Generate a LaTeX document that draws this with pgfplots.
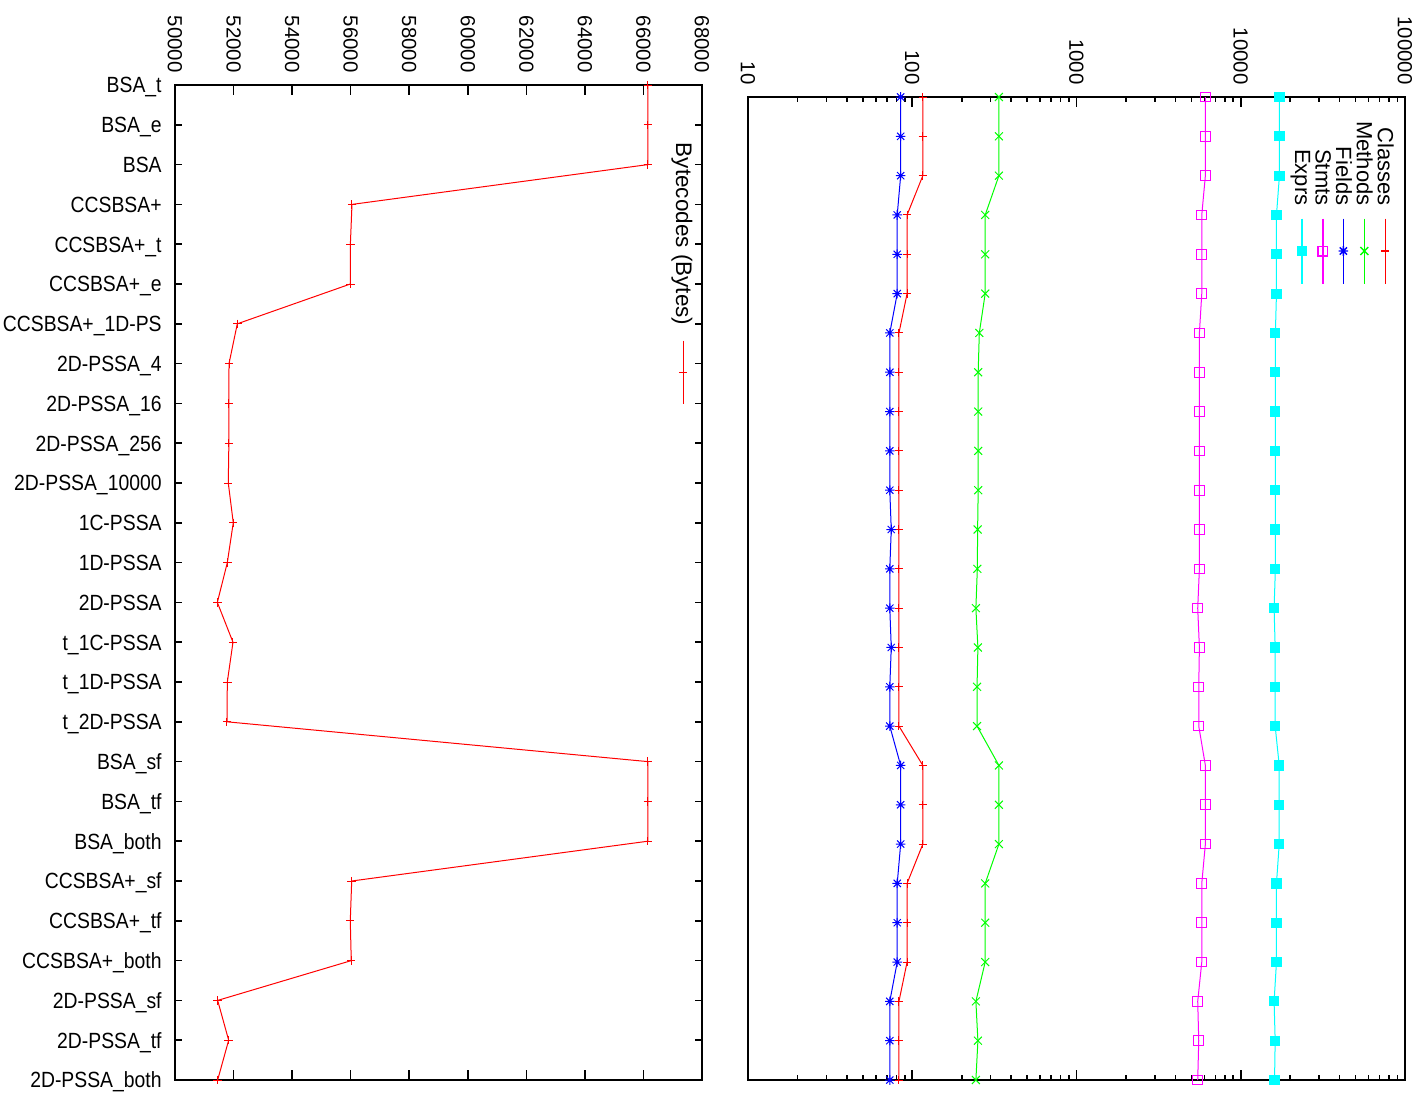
\documentclass[border=0pt]{standalone}
\usepackage{fontspec}
\setmainfont{Liberation Sans}
\newfontfamily\catfont[FakeStretch=0.88]{Liberation Sans}
\usepackage{graphicx}
\usepackage{pgfplots}
\usepackage{pgfplotstable}
\pgfplotsset{compat=1.18}

\definecolor{gpred}{RGB}{255,0,0}
\definecolor{gpgreen}{RGB}{0,255,0}
\definecolor{gpblue}{RGB}{0,0,255}
\definecolor{gpmagenta}{RGB}{255,0,255}
\definecolor{gpcyan}{RGB}{0,255,255}

\newcommand\lgtxt[2]{\rotatebox{-90}{\makebox[#1][r]{\rule[-2pt]{0pt}{9.75pt}#2}}}

\pgfdeclareplotmark{gpstar}{%
  \pgfpathmoveto{\pgfqpoint{-\pgfplotmarksize}{0pt}}\pgfpathlineto{\pgfqpoint{\pgfplotmarksize}{0pt}}%
  \pgfpathmoveto{\pgfqpoint{0pt}{-\pgfplotmarksize}}\pgfpathlineto{\pgfqpoint{0pt}{\pgfplotmarksize}}%
  \pgfpathmoveto{\pgfqpoint{-.75\pgfplotmarksize}{-.75\pgfplotmarksize}}\pgfpathlineto{\pgfqpoint{.75\pgfplotmarksize}{.75\pgfplotmarksize}}%
  \pgfpathmoveto{\pgfqpoint{-.75\pgfplotmarksize}{.75\pgfplotmarksize}}\pgfpathlineto{\pgfqpoint{.75\pgfplotmarksize}{-.75\pgfplotmarksize}}%
  \pgfusepathqstroke}

\pgfplotstableread{
row bc    cls mth fld  stm  exp
0   66150 116 337 85   6090 17200
1   66150 116 337 85   6090 17200
2   66150 116 337 85   6090 17200
3   56045 93  278 81   5790 16500
4   55990 93  278 81   5790 16500
5   55990 93  278 81   5790 16500
6   52128 83  256 73   5600 16250
7   51845 83  252 73   5600 16250
8   51840 83  252 73   5600 16250
9   51840 83  252 73   5600 16250
10  51820 83  252 73   5600 16250
11  51990 83  250 74.5 5600 16250
12  51787 83  249 73   5600 16250
13  51446 83  244 73   5470 15960
14  51980 83  251 74.5 5600 16200
15  51787 83  248 73   5550 16200
16  51776 83  248 73   5550 16200
17  66150 116 337 85   6090 17150
18  66150 116 337 85   6090 17150
19  66150 116 337 85   6090 17150
20  56035 93  278 81   5790 16500
21  55987 93  278 81   5790 16500
22  56020 93  278 81   5790 16500
23  51457 83  244 73   5470 15960
24  51833 83  251 73   5550 16200
25  51457 83  244 73   5470 16060
}\datatable

\begin{document}
\begin{tikzpicture}
\useasboundingbox (0,0) rectangle (711.5pt,548.5pt);
\pgfplotsset{
  gpaxis/.style={
    scale only axis,
    anchor=south west,
    ymin=0, ymax=25, y dir=reverse,
    clip=false,
    scaled x ticks=false,
    tick align=inside,
    axis line style={line width=1.1pt},
    every tick/.style={black, line width=0.8pt},
    xticklabel pos=upper,
    xticklabel style={rotate=-90, anchor=east, inner sep=0pt, font=\fontsize{10.2}{11}\selectfont},
    xticklabel shift=6pt,
    xtick style={/pgfplots/major tick length=5pt, /pgfplots/minor tick length=2.6pt},
    legend style={draw=none, fill=none, inner sep=0pt, outer sep=0pt,
      column sep=0pt, row sep=0pt, cells={anchor=north west},
      nodes={inner sep=0pt, outer sep=0pt}},
    legend plot pos=left,
  },
}
\begin{axis}[gpaxis,
  width=263.5pt, height=497.5pt,
  at={(87.5pt,8.5pt)},
  xmin=50000, xmax=68000,
  xtick={50000,52000,54000,56000,58000,60000,62000,64000,66000,68000},
  xticklabels={50000,52000,54000,56000,58000,60000,62000,64000,66000,68000},
  ytick={0,...,25},
  yticklabels={BSA\_t,BSA\_e,BSA,CCSBSA+,CCSBSA+\_t,CCSBSA+\_e,CCSBSA+\_1D-PS,2D-PSSA\_4,2D-PSSA\_16,2D-PSSA\_256,2D-PSSA\_10000,1C-PSSA,1D-PSSA,2D-PSSA,t\_1C-PSSA,t\_1D-PSSA,t\_2D-PSSA,BSA\_sf,BSA\_tf,BSA\_both,CCSBSA+\_sf,CCSBSA+\_tf,CCSBSA+\_both,2D-PSSA\_sf,2D-PSSA\_tf,2D-PSSA\_both},
  yticklabel pos=lower,
  yticklabel style={anchor=east, inner sep=0pt, text height=7.9pt, text depth=0pt, font=\catfont\fontsize{11}{13}\selectfont},
  yticklabel shift=6.5pt,
  ytick style={/pgfplots/major tick length=3.7pt},
  legend style={at={(0.982,0.9407)}, anchor=north east, font=\fontsize{11.25}{13}\selectfont},
  legend image code/.code={\path (0pt,0pt); \draw[overlay,mark repeat=2,mark phase=2,#1] plot coordinates {(6.03pt,-98pt) (6.03pt,-113.75pt) (6.03pt,-129.5pt)};},
]
\addplot[gpred, line width=0.5pt, mark=+, mark size=2.1pt] table[x=bc, y=row] {\datatable};
\addlegendentry{\lgtxt{90.5pt}{Bytecodes (Bytes)}}
\end{axis}

\begin{axis}[gpaxis,
  width=328.5pt, height=491.5pt,
  at={(374pt,8.5pt)},
  xmode=log, xmin=10, xmax=100000,
  xtick={10,100,1000,10000,100000},
  xticklabels={10,100,1000,10000,100000},
  minor xtick={20,30,40,50,60,70,80,90,200,300,400,500,600,700,800,900,2000,3000,4000,5000,6000,7000,8000,9000,20000,30000,40000,50000,60000,70000,80000,90000},
  ytick=\empty,
  legend columns=5, reverse legend,
  legend style={at={(0.983,0.9766)}, anchor=north east, font=\fontsize{11}{13}\selectfont},
  legend image code/.code={\path (0pt,0pt); \draw[overlay,line width=0.7pt,mark repeat=2,mark phase=2,#1] plot coordinates {(5.94pt,-49pt) (5.94pt,-65.25pt) (5.94pt,-81.5pt)};},
]
\addplot[gpred, line width=0.5pt, mark=+, mark size=2.1pt] table[x=cls, y=row] {\datatable};
\addlegendentry{\lgtxt{42.5pt}{Classes}}
\addplot[gpgreen, line width=0.5pt, mark=x, mark size=2.8pt] table[x=mth, y=row] {\datatable};
\addlegendentry{\lgtxt{42.5pt}{Methods}}
\addplot[gpblue, line width=0.5pt, mark=gpstar, mark size=2.4pt] table[x=fld, y=row] {\datatable};
\addlegendentry{\lgtxt{42.5pt}{Fields}}
\addplot[gpmagenta, line width=0.5pt, mark=square, mark size=2.4pt] table[x=stm, y=row] {\datatable};
\addlegendentry{\lgtxt{42.5pt}{Stmts}}
\addplot[gpcyan, line width=0.5pt, mark=square*, mark size=2.3pt, mark options={fill=gpcyan}] table[x=exp, y=row] {\datatable};
\addlegendentry{\lgtxt{42.5pt}{Exprs}}
\end{axis}
\end{tikzpicture}
\end{document}
